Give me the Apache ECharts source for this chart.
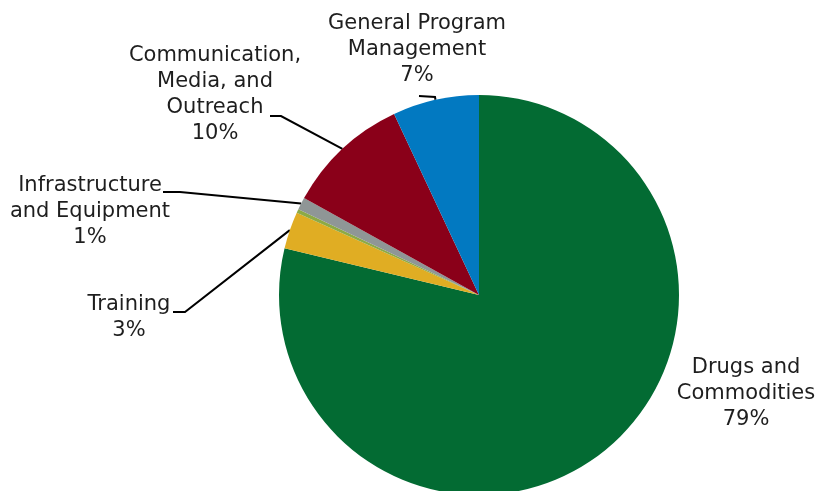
<!DOCTYPE html>
<html>
<head>
<meta charset="utf-8">
<script src="https://cdn.jsdelivr.net/npm/echarts@6/dist/echarts.min.js"></script>
<style>
  html, body { margin: 0; padding: 0; background: #ffffff; }
  #chart { width: 818px; height: 491px; }
</style>
</head>
<body>
<div id="chart"></div>
<script>
// Budget shares by category (percent), clockwise from 12 o'clock
const categories = [
  'Drugs and\nCommodities',
  'Training',
  'Other',
  'Infrastructure\nand Equipment',
  'Communication,\nMedia, and\nOutreach',
  'General Program\nManagement'
];
const shares = [79, 3, 0.3, 1, 10, 7];
const showLabel = [true, true, false, true, true, true];
const sliceColors = ['#036B33', '#E0AD23', '#8DAA45', '#8F9696', '#8A0019', '#0279C1'];

// Label block centres and elbow/end points of the leader lines
const labelPos = [
  { x: 746, y: 394, line: null },
  { x: 129, y: 318, line: [[185, 312], [173, 312]] },
  null,
  { x: 90,  y: 212, line: [[180, 192], [163, 192]] },
  { x: 215, y: 95,  line: [[281, 116], [270, 116]] },
  { x: 417, y: 50,  line: [[435, 97], [419, 96]] }
];

const chart = echarts.init(document.getElementById('chart'), null, { renderer: 'canvas' });

const data = categories.map((name, i) => ({
  name: name,
  value: shares[i],
  itemStyle: { color: sliceColors[i] },
  label: { show: showLabel[i] },
  labelLine: { show: showLabel[i] && i !== 0 }
}));

chart.setOption({
  animation: false,
  backgroundColor: '#ffffff',
  series: [{
    type: 'pie',
    center: [479, 295],
    radius: 200,
    startAngle: 90,
    clockwise: true,
    avoidLabelOverlap: false,
    itemStyle: { borderWidth: 0 },
    label: {
      position: 'outside',
      formatter: p => p.name + '\n' + Math.round(p.value) + '%',
      fontFamily: 'DejaVu Sans',
      fontSize: 21,
      lineHeight: 26,
      color: '#1e1e1e',
      align: 'center'
    },
    labelLine: {
      lineStyle: { color: '#000000', width: 2 }
    },
    labelLayout: function (params) {
      const pos = labelPos[params.dataIndex];
      if (!pos) return {};
      const out = { x: pos.x, y: pos.y, align: 'center', verticalAlign: 'middle' };
      if (pos.line && params.labelLinePoints) {
        out.labelLinePoints = [params.labelLinePoints[0], pos.line[0], pos.line[1]];
      }
      return out;
    },
    data: data
  }]
});
</script>
</body>
</html>
